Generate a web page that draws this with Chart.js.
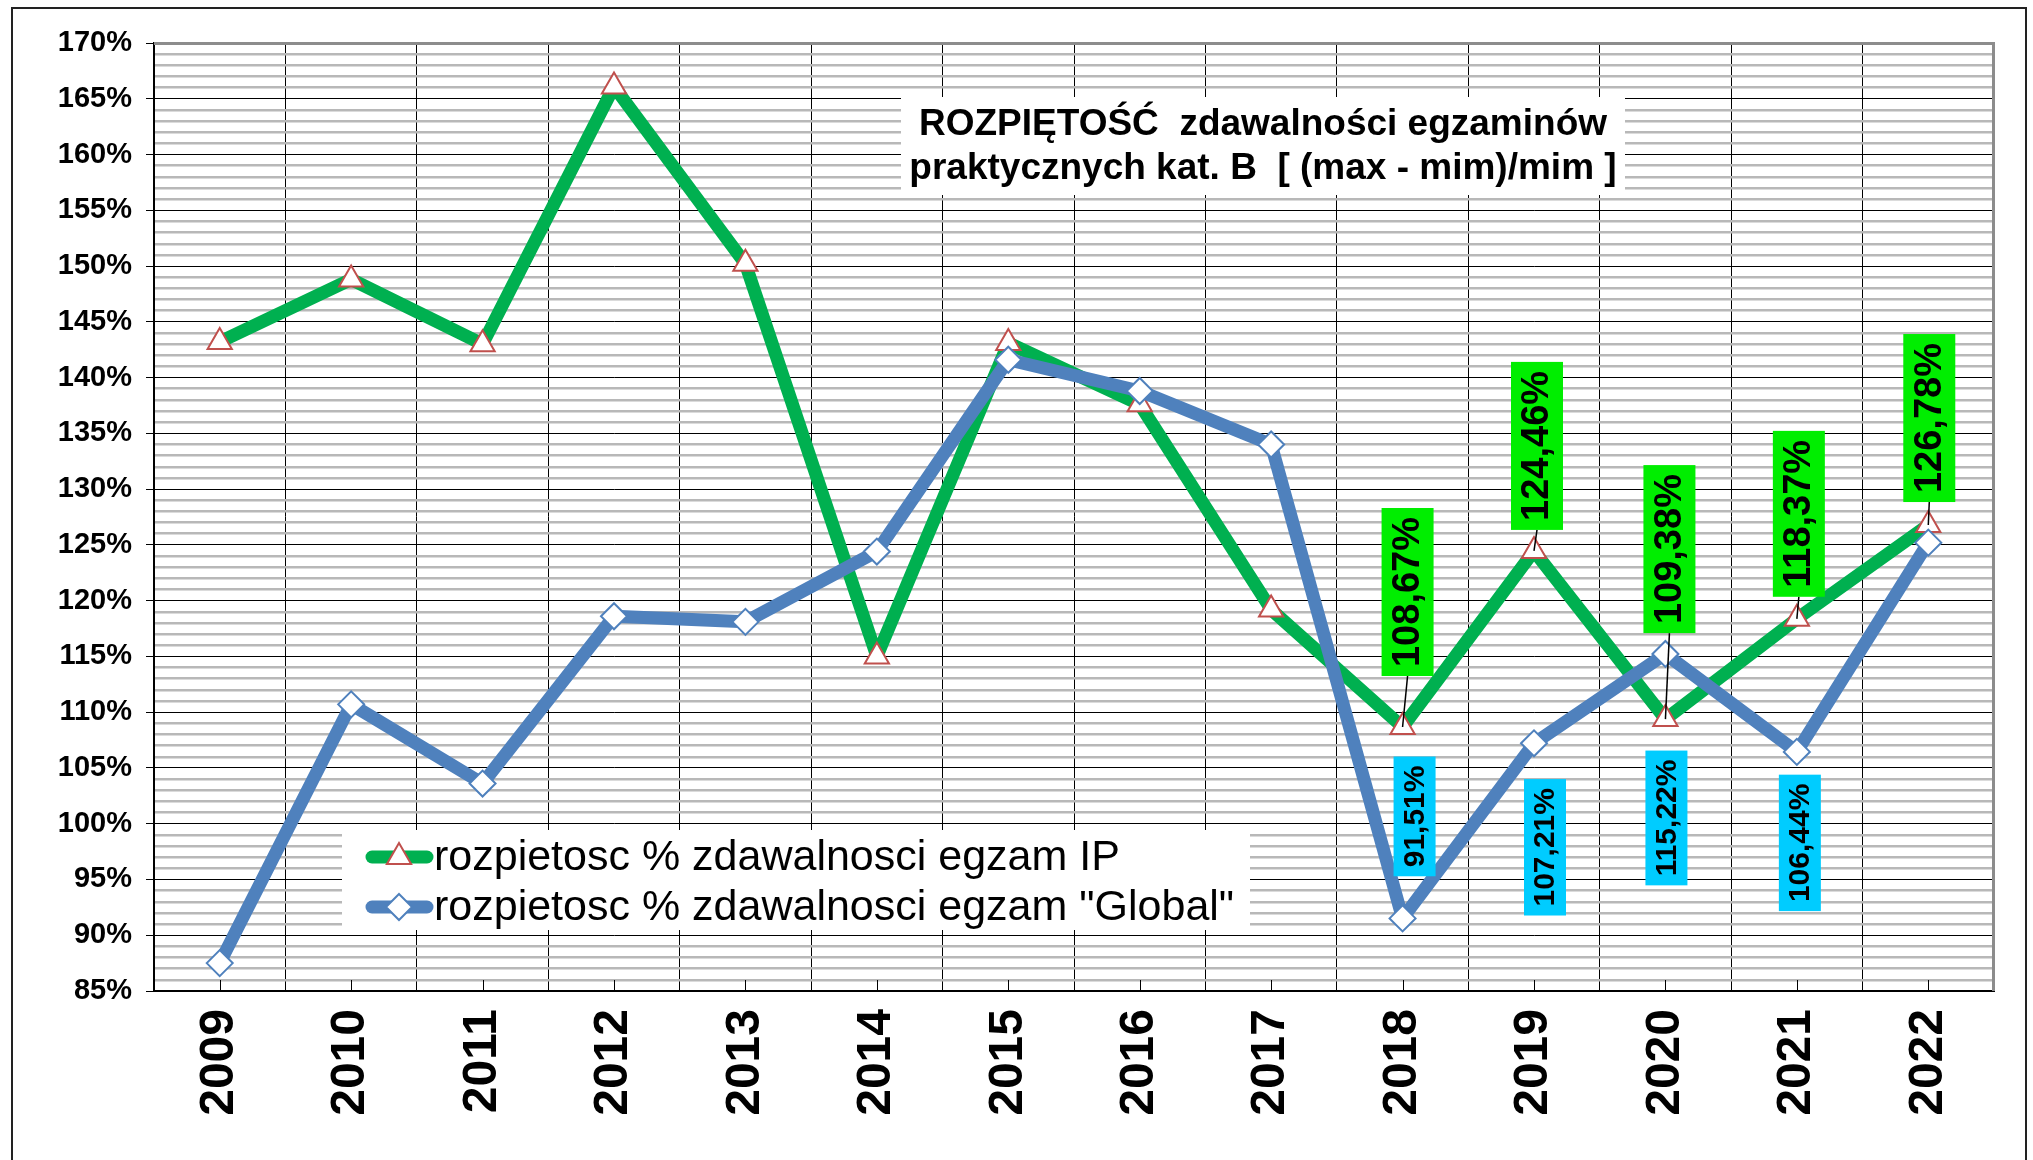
<!DOCTYPE html>
<html>
<head>
<meta charset="utf-8">
<script src="https://cdn.jsdelivr.net/npm/chart.js@4"></script>
<style>
  html, body { margin: 0; padding: 0; background: #fff; overflow: hidden; }
  canvas { display: block; }
</style>
</head>
<body>
<canvas id="c" width="2033" height="1160"></canvas>
<script>
// ---------------- data ----------------
const years = ['2009','2010','2011','2012','2013','2014','2015','2016','2017','2018','2019','2020','2021','2022'];
const ipValues = [143.2, 148.8, 143.0, 166.1, 150.2, 115.0, 143.1, 137.6, 119.2, 108.67, 124.46, 109.38, 118.37, 126.78];
const globalValues = [87.5, 110.7, 103.6, 118.6, 118.1, 124.4, 141.6, 138.8, 134.0, 91.51, 107.21, 115.22, 106.44, 125.2];
const seriesNames = ['rozpietosc % zdawalnosci egzam IP', 'rozpietosc % zdawalnosci egzam "Global"'];
const titleLines = ['ROZPIĘTOŚĆ  zdawalności egzaminów', 'praktycznych kat. B  [ (max - mim)/mim ]'];
const yMin = 85, yMax = 170, yStep = 1, yMajor = 5;

// label placement (styling): [dx, dy] offset of the label box centre from its point, null = no label
const ipLabelOffsets = [null,null,null,null,null,null,null,null,null,[5,-135],[3,-105],[4,-170],[2,-105],[1,-107]];
const globalLabelOffsets = [null,null,null,null,null,null,null,null,null,[12,-102],[11,104],[1,164],[3,91],null];

const FONT = "'Liberation Sans', Arial, Helvetica, sans-serif";
Chart.defaults.font.family = FONT;
Chart.defaults.color = '#000';

const fmt = v => v.toFixed(2).replace('.', ',') + '%';

function markerPath(ctx, style, x, y, r) {
  ctx.beginPath();
  if (style === 'triangle') {
    let rad = 0;
    for (let k = 0; k < 3; k++) {
      const px = x + Math.sin(rad) * r, py = y - Math.cos(rad) * r;
      if (k === 0) ctx.moveTo(px, py); else ctx.lineTo(px, py);
      rad += 2 * Math.PI / 3;
    }
  } else {
    ctx.moveTo(x, y - r); ctx.lineTo(x + r, y); ctx.lineTo(x, y + r); ctx.lineTo(x - r, y);
  }
  ctx.closePath();
}

const decor = {
  id: 'decor',
  beforeDraw(chart) {
    const ctx = chart.ctx;
    ctx.save();
    ctx.fillStyle = '#fff';
    ctx.fillRect(0, 0, chart.width, chart.height);
    ctx.restore();
  },
  beforeDatasetsDraw(chart) {
    const ctx = chart.ctx, a = chart.chartArea, xs = chart.scales.x;
    ctx.save();
    // top and right frame of the plot area
    ctx.strokeStyle = '#8c8c8c';
    ctx.lineWidth = 3;
    ctx.beginPath();
    ctx.moveTo(a.left, a.top + 0.5);
    ctx.lineTo(a.right - 0.5, a.top + 0.5);
    ctx.lineTo(a.right - 0.5, a.bottom);
    ctx.stroke();
    // small inside tick marks at category centres
    ctx.strokeStyle = '#000';
    ctx.lineWidth = 1;
    ctx.beginPath();
    for (let i = 0; i < years.length; i++) {
      const px = Math.round(xs.getPixelForValue(i)) + 0.5;
      ctx.moveTo(px, a.bottom - 11);
      ctx.lineTo(px, a.bottom);
    }
    ctx.stroke();

    // title box
    ctx.fillStyle = '#fff';
    ctx.fillRect(901, 97, 724, 98);
    ctx.fillStyle = '#000';
    ctx.font = 'bold 37px ' + FONT;
    ctx.textAlign = 'center';
    ctx.textBaseline = 'middle';
    ctx.fillText(titleLines[0], 1263, 125);
    ctx.fillText(titleLines[1], 1263, 169);

    // legend box
    ctx.fillStyle = '#fff';
    ctx.fillRect(342, 830, 908, 100);
    const ds = chart.data.datasets;
    const rows = [857, 907];
    ds.forEach((d, i) => {
      const y = rows[i];
      ctx.strokeStyle = d.borderColor;
      ctx.lineWidth = d.borderWidth;
      ctx.lineCap = 'round';
      ctx.beginPath();
      ctx.moveTo(372, y);
      ctx.lineTo(427, y);
      ctx.stroke();
      markerPath(ctx, d.pointStyle, 399, y, d.pointRadius);
      ctx.fillStyle = d.pointBackgroundColor;
      ctx.fill();
      ctx.lineWidth = d.pointBorderWidth;
      ctx.strokeStyle = d.pointBorderColor;
      ctx.stroke();
      ctx.fillStyle = '#000';
      ctx.font = '43px ' + FONT;
      ctx.textAlign = 'left';
      ctx.textBaseline = 'middle';
      ctx.fillText(d.label, 434, y + 1);
    });
    ctx.restore();
  },
  afterDatasetsDraw(chart) {
    const ctx = chart.ctx;
    const specs = [
      { ds: 0, offsets: ipLabelOffsets, fill: '#00ee00', size: 38, w: 52, connector: true },
      { ds: 1, offsets: globalLabelOffsets, fill: '#00ccff', size: 30, w: 42, connector: false }
    ];
    ctx.save();
    specs.forEach(s => {
      const meta = chart.getDatasetMeta(s.ds);
      const values = chart.data.datasets[s.ds].data;
      meta.data.forEach((pt, i) => {
        const off = s.offsets[i];
        if (!off) return;
        const text = fmt(values[i]);
        ctx.font = 'bold ' + s.size + 'px ' + FONT;
        const tw = ctx.measureText(text).width;
        const h = tw + 18;
        const cx = pt.x + off[0], cy = pt.y + off[1];
        if (s.connector) {
          ctx.strokeStyle = '#000';
          ctx.lineWidth = 1.5;
          ctx.beginPath();
          ctx.moveTo(cx, cy + h / 2);
          ctx.lineTo(pt.x, pt.y);
          ctx.stroke();
        }
        ctx.fillStyle = s.fill;
        ctx.fillRect(cx - s.w / 2, cy - h / 2, s.w, h);
        ctx.save();
        ctx.translate(cx, cy);
        ctx.rotate(-Math.PI / 2);
        ctx.fillStyle = '#000';
        ctx.textAlign = 'center';
        ctx.textBaseline = 'middle';
        ctx.fillText(text, 0, 1);
        ctx.restore();
      });
    });
    ctx.restore();
  },
  afterDraw(chart) {
    const ctx = chart.ctx;
    ctx.save();
    ctx.strokeStyle = '#222';
    ctx.lineWidth = 2;
    ctx.beginPath();
    ctx.moveTo(12, 1170);
    ctx.lineTo(12, 8);
    ctx.lineTo(2026, 8);
    ctx.lineTo(2026, 1170);
    ctx.stroke();
    ctx.restore();
  }
};

new Chart(document.getElementById('c'), {
  type: 'line',
  data: {
    labels: years,
    datasets: [
      {
        label: seriesNames[0],
        data: ipValues,
        order: 1,
        borderColor: '#00B050',
        borderWidth: 13,
        borderJoinStyle: 'round',
        tension: 0,
        fill: false,
        pointStyle: 'triangle',
        pointRadius: 14,
        pointHoverRadius: 14,
        pointBackgroundColor: '#ffffff',
        pointBorderColor: '#C0504D',
        pointBorderWidth: 2
      },
      {
        label: seriesNames[1],
        data: globalValues,
        order: 0,
        borderColor: '#4F81BD',
        borderWidth: 13,
        borderJoinStyle: 'round',
        tension: 0,
        fill: false,
        pointStyle: 'rectRot',
        pointRadius: 13,
        pointHoverRadius: 13,
        pointBackgroundColor: '#ffffff',
        pointBorderColor: '#4F81BD',
        pointBorderWidth: 2
      }
    ]
  },
  options: {
    responsive: false,
    animation: false,
    devicePixelRatio: 1,
    layout: { padding: { left: 0, top: 43, right: 39, bottom: 0 } },
    plugins: {
      legend: { display: false },
      title: { display: false },
      tooltip: { enabled: false }
    },
    scales: {
      x: {
        type: 'category',
        offset: true,
        afterFit(s) { s.height = 169; },
        grid: {
          offset: true,
          color: '#000',
          lineWidth: 1,
          drawTicks: false
        },
        border: { color: '#000', width: 2 },
        ticks: {
          autoSkip: false,
          minRotation: 90,
          maxRotation: 90,
          padding: 18,
          color: '#000',
          font: { size: 48, weight: 'bold' }
        }
      },
      y: {
        min: yMin,
        max: yMax,
        afterFit(s) { s.width = 154; },
        grid: {
          color: c => (Math.round(c.tick.value) % yMajor === 0 ? '#000' : '#b8b8b8'),
          lineWidth: c => (Math.round(c.tick.value) % yMajor === 0 ? 1 : 2.5),
          tickColor: c => (Math.round(c.tick.value) % yMajor === 0 ? '#000' : 'rgba(0,0,0,0)'),
          tickLength: 8,
          tickWidth: 1
        },
        border: { color: '#000', width: 2 },
        ticks: {
          stepSize: yStep,
          autoSkip: false,
          padding: 14,
          color: '#000',
          font: { size: 29, weight: 'bold' },
          callback: v => (Math.round(v) % yMajor === 0 ? Math.round(v) + '%' : '')
        }
      }
    }
  },
  plugins: [decor]
});
</script>
</body>
</html>
